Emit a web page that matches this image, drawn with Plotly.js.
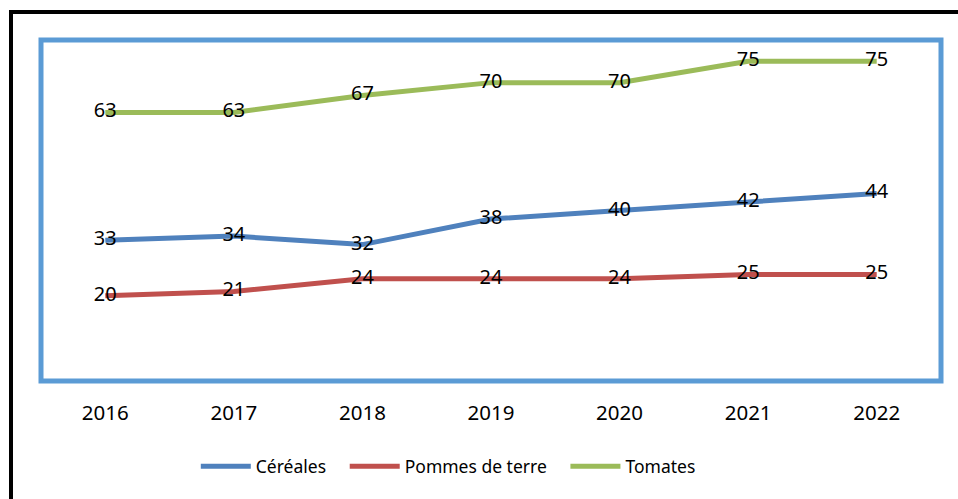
<!DOCTYPE html>
<html>
<head>
<meta charset="utf-8">
<script src="https://cdn.plot.ly/plotly-3.0.1.min.js"></script>
<style>
html,body{margin:0;padding:0;background:#fff;}
#wrap{position:relative;width:958px;height:499px;overflow:hidden;}
#chart{width:958px;height:499px;}
#frame{position:absolute;left:9px;top:10px;width:1000px;height:600px;border:4px solid #000;box-sizing:border-box;pointer-events:none;}
</style>
</head>
<body>
<div id="wrap">
<div id="chart"></div>
<div id="frame"></div>
</div>
<script>
const years = ["2016","2017","2018","2019","2020","2021","2022"];
const cereales = [33,34,32,38,40,42,44];
const pommes = [20,21,24,24,24,25,25];
const tomates = [63,63,67,70,70,75,75];
const seriesNames = ["Céréales","Pommes de terre","Tomates"];
const colors = ["#4F81BD","#C0504D","#9BBB59"];
const font = "Noto Sans, Open Sans, sans-serif";
const pad = "\u00a0\u00a0\u00a0";

const data = [cereales, pommes, tomates].map((vals, i) => ({
  type: "scatter",
  mode: "lines+text",
  x: years,
  y: vals,
  name: seriesNames[i] + (i < 2 ? pad : ""),
  text: vals.map(String),
  textposition: "middle center",
  textfont: {family: font, size: 20, color: "#000"},
  line: {color: colors[i], width: 5},
  cliponaxis: false,
  hoverinfo: "skip"
}));

const layout = {
  width: 958, height: 499,
  margin: {l: 40.5, r: 17, t: 40, b: 118},
  paper_bgcolor: "#fff", plot_bgcolor: "#fff",
  showlegend: true,
  legend: {orientation: "h", x: 0.172, xanchor: "left", y: -0.25, yanchor: "middle",
           font: {family: font, size: 17.5, color: "#000"}, itemwidth: 50, traceorder: "normal"},
  xaxis: {type: "category", range: [-0.5, 6.5], showgrid: false, zeroline: false, showline: false,
          ticks: "", tickfont: {family: font, size: 20.5, color: "#000"}, ticklabelstandoff: 17, fixedrange: true},
  yaxis: {range: [0, 80], visible: false, showgrid: false, zeroline: false, fixedrange: true},
  shapes: [{type: "rect", xref: "paper", yref: "paper", x0: 0, x1: 1, y0: 0, y1: 1,
            line: {color: "#5B9BD5", width: 5}, layer: "below"}]
};

Plotly.newPlot("chart", data, layout, {displayModeBar: false, staticPlot: true});
</script>
</body>
</html>
